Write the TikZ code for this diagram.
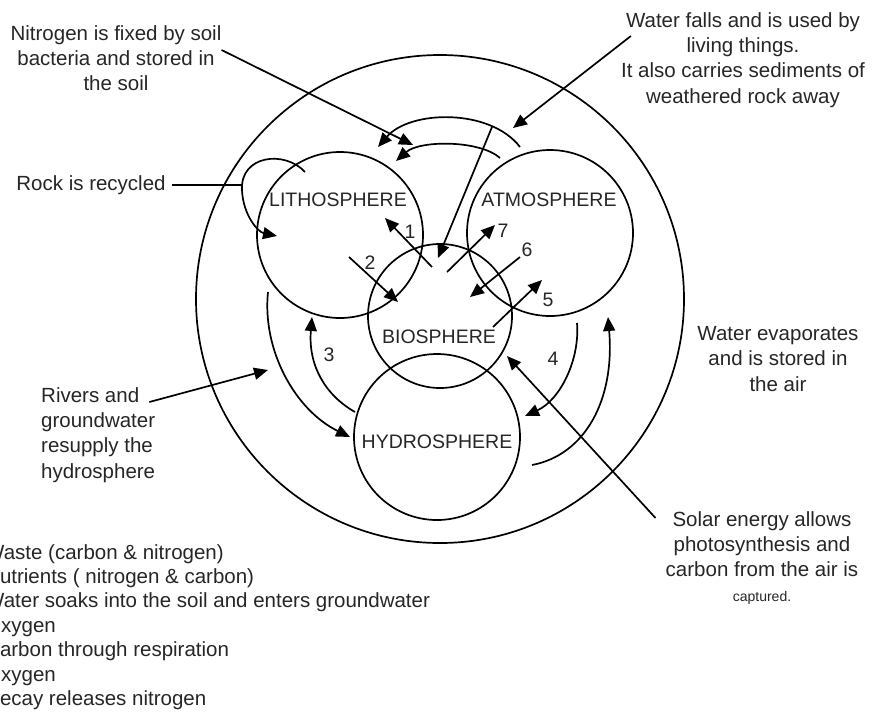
\documentclass[tikz,border=0pt]{standalone}
\usepackage{fontspec}
\setmainfont{Liberation Sans}
\usetikzlibrary{arrows.meta}

\begin{document}
\begin{tikzpicture}[
    x=1pt, y=-1pt,
    sphere/.style={circle, draw=black, line width=1.7pt, minimum size=#1, inner sep=0pt},
    sphere/.default=166pt,
    spherename/.style={font=\fontsize{19.5}{23}\selectfont, text=black!85, inner sep=0pt},
    note/.style={font=\fontsize{20.5}{25.3}\selectfont, text=black!85, align=center, inner sep=0pt},
    num/.style={font=\fontsize{19.5}{23}\selectfont, text=black!85, inner sep=0pt},
    edge/.style={line width=1.7pt, -{Triangle[length=14pt,width=12pt]}},
    plain/.style={line width=1.7pt, -}
]
    \useasboundingbox (0,0) rectangle (873,713);

    % the four spheres inside the earth
    \node[sphere=488pt] (earth) at (440,299) {};
    \node[sphere] (litho) at (340,235) {};
    \node[sphere] (atmo) at (550,233) {};
    \node[sphere=144pt] (bio) at (440,316) {};
    \node[sphere] (hydro) at (437,437) {};
    \node[spherename] (lithoname) at (338,200) {LITHOSPHERE};
    \node[spherename] (atmoname) at (549,200) {ATMOSPHERE};
    \node[spherename] (bioname) at (439,337) {BIOSPHERE};
    \node[spherename] (hydroname) at (437,442) {HYDROSPHERE};

    % notes around the circle
    \node[note] (nfix) at (116,58) {Nitrogen is fixed by soil\\bacteria and stored in\\the soil};
    \node[note] (wfall) at (743,60) {Water falls and is used by\\living things.\\It also carries sediments of\\weathered rock away};
    \node[note] (rock) at (91,185) {Rock is recycled};
    \node[note, align=left, anchor=west] (rivers) at (41,435) {Rivers and\\groundwater\\resupply the\\hydrosphere};
    \node[note] (evap) at (778,359) {Water evaporates\\and is stored in\\the air};
    \node[note, anchor=north] (solar) at (762,511) {Solar energy allows\\photosynthesis and\\carbon from the air is\\{\fontsize{14}{17}\selectfont captured.}};
    \node[note, align=left, anchor=west, font=\fontsize{20.5}{24.4}\selectfont] (legend) at (-15,627)
        {Waste (carbon \& nitrogen)\\Nutrients ( nitrogen \& carbon)\\Water soaks into the soil and enters groundwater\\Oxygen\\Carbon through respiration\\Oxygen\\Decay releases nitrogen};

    % free ends of the arrows
    \coordinate (n1) at (413,145);
    \coordinate (w1) at (513,128);
    \coordinate (w2) at (492,127);
    \coordinate (w3) at (438,258);
    \coordinate (t1) at (520,147);
    \coordinate (t2) at (378,147);
    \coordinate (t3) at (500,158);
    \coordinate (t4) at (396,161);
    \coordinate (r1) at (305,172);
    \coordinate (r2) at (277,236);
    \coordinate (r3) at (243,185);
    \coordinate (a1) at (432,267);
    \coordinate (b1) at (385,218);
    \coordinate (a2) at (349,257);
    \coordinate (b2) at (398,302);
    \coordinate (a3) at (355,412);
    \coordinate (b3) at (312,317);
    \coordinate (a4) at (577,323);
    \coordinate (b4) at (525,416);
    \coordinate (a5) at (493,327);
    \coordinate (b5) at (542,280);
    \coordinate (a6) at (520,257);
    \coordinate (b6) at (470,297);
    \coordinate (a7) at (447,272);
    \coordinate (b7) at (495,225);
    \coordinate (g1) at (268,292);
    \coordinate (g2) at (350,437);
    \coordinate (g3) at (268,370);
    \coordinate (e1) at (532,465);
    \coordinate (e2) at (608,317);
    \coordinate (s1) at (507,356);

    \draw[edge] (nfix.east) ++(0,-8) -- (n1);
    \draw[edge] (wfall.west) ++(10,-24) -- (w1);
    \draw[edge] (w2) -- (w3);
    \draw[edge] (t1) .. controls (490,108) and (410,110) .. (t2);
    \draw[edge] (t3) .. controls (480,140) and (420,140) .. (t4);
    \draw[edge] (r1) .. controls (285,150) and (240,155) .. (242,190) .. controls (243,215) and (258,232) .. (r2);
    \draw[plain] (rock.east) ++(6,0) -- (r3);
    \draw[edge] (a1) -- (b1);
    \draw[edge] (a2) -- (b2);
    \draw[edge] (a3) .. controls (325,395) and (308,365) .. (b3);
    \draw[edge] (a4) .. controls (580,360) and (560,400) .. (b4);
    \draw[edge] (a5) -- (b5);
    \draw[edge] (a6) -- (b6);
    \draw[edge] (a7) -- (b7);
    \draw[edge] (g1) .. controls (262,350) and (295,410) .. (g2);
    \draw[edge] (rivers.east) ++(-6,-33) -- (g3);
    \draw[edge] (e1) .. controls (585,455) and (615,400) .. (e2);
    \draw[edge] (solar.north west) ++(-10,7) -- (s1);

    \node[num] (one) at (410,232) {1};
    \node[num] (two) at (370,263) {2};
    \node[num] (three) at (329,355) {3};
    \node[num] (four) at (553,359) {4};
    \node[num] (five) at (548,300) {5};
    \node[num] (six) at (527,250) {6};
    \node[num] (seven) at (503,231) {7};
\end{tikzpicture}
\end{document}
